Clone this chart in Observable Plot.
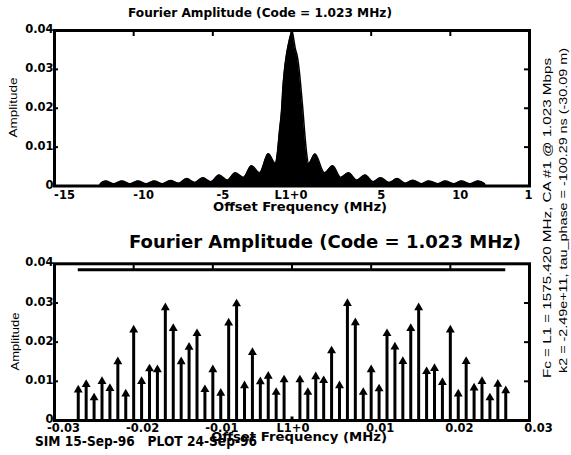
<!DOCTYPE html>
<html><head><meta charset="utf-8">
<script src="https://cdn.jsdelivr.net/npm/d3@7"></script>
<script src="https://cdn.jsdelivr.net/npm/@observablehq/plot@0.6"></script>
<style>
body{margin:0;background:#fff;}
#wrap{position:relative;width:571px;height:455px;overflow:hidden;background:#fff;}
#wrap > svg{position:absolute;left:0;}
</style></head><body><div id="wrap"></div>
<script>
// ---- top panel: spectrum envelope (MHz, amplitude)
const envFreq = [-12.15,-12.1,-11.77,-11.25,-10.74,-10.23,-9.72,-9.21,-8.70,-8.18,
  -7.67,-7.16,-6.65,-6.14,-5.63,-5.12,-4.60,-4.09,-3.58,-3.07,
  -2.56,-2.05,-1.50,-1.05,-0.92,-0.80,-0.65,-0.58,-0.48,-0.36,
  -0.25,-0.08,0,
  0.10,0.20,0.35,0.45,0.57,0.68,0.80,0.92,1.05,
  1.45,2.05,2.57,3.07,3.57,4.09,4.62,5.12,5.59,6.14,
  6.65,7.16,7.63,8.18,8.62,9.21,9.68,10.23,10.70,11.25,
  11.75,12.15,12.2];
const envAmp = [0,0.0006,0.0013,0.0006,0.0013,0.0006,0.0013,0.0006,0.0013,0.0006,
  0.0014,0.0007,0.0019,0.0009,0.0021,0.0011,0.0028,0.0015,0.0034,0.0022,
  0.0052,0.0034,0.0083,0.0058,0.0086,0.0138,0.0200,0.0250,0.0297,0.0335,
  0.0360,0.0390,0.0400,
  0.0380,0.0355,0.0330,0.0300,0.0250,0.0200,0.0138,0.0086,0.0058,
  0.0082,0.0034,0.0052,0.0022,0.0034,0.0015,0.0028,0.0011,0.0021,0.0009,
  0.0019,0.0007,0.0015,0.0006,0.0013,0.0006,0.0013,0.0006,0.0013,0.0006,
  0.0013,0.0006,0];
const topXTicks = [-15,-10,-5,0,5,10,15];
const topXLabels = ["-15","-10","-5","L1+0","5","10","1"];

// ---- bottom panel: spectral lines (MHz, amplitude)
const lineFreq = [-0.027,-0.026,-0.025,-0.024,-0.023,-0.022,-0.021,-0.020,-0.019,-0.018,
  -0.017,-0.016,-0.015,-0.014,-0.013,-0.012,-0.011,-0.010,-0.009,-0.008,
  -0.007,-0.006,-0.005,-0.004,-0.003,-0.002,-0.001,0,
  0.001,0.002,0.003,0.004,0.005,0.006,0.007,0.008,0.009,0.010,
  0.011,0.012,0.013,0.014,0.015,0.016,0.017,0.018,0.019,0.020,
  0.021,0.022,0.023,0.024,0.025,0.026,0.027];
const lineAmp = [0.0078,0.0092,0.0058,0.0100,0.0082,0.0150,0.0068,0.0231,0.0100,0.0132,
  0.0130,0.0288,0.0235,0.0150,0.0187,0.0222,0.0079,0.0130,0.0070,0.0249,
  0.0298,0.0089,0.0174,0.0099,0.0113,0.0072,0.0104,0.0009,
  0.0104,0.0072,0.0112,0.0102,0.0178,0.0089,0.0299,0.0250,0.0072,0.0130,
  0.0081,0.0222,0.0188,0.0151,0.0235,0.0288,0.0125,0.0133,0.0097,0.0231,
  0.0068,0.0151,0.0083,0.0100,0.0058,0.0093,0.0076];
const envLevel = [0.0385];
const botXTicks = [-0.03,-0.02,-0.01,0,0.01,0.02,0.03];
const botXLabels = ["-0.03","-0.02","-0.01","L1+0","0.01","0.02","0.03"];

const yTicks = [0,0.01,0.02,0.03,0.04];
const yLabels = ["0","0.01","0.02","0.03","0.04"];

const titleText = "Fourier Amplitude (Code = 1.023 MHz)";
const xLabelText = "Offset Frequency (MHz)";
const yLabelText = "Amplitude";
const sideNotes = ["Fc = L1 = 1575.420 MHz, CA #1 @ 1.023 Mbps",
                   "k2 = -2.49e+11, tau_phase = -100.29 ns (-30.09 m)"];
const footerText = "SIM 15-Sep-96   PLOT 24-Sep-96";

// ---- build
const envelope = envFreq.map((f, i) => ({f, a: envAmp[i]}));
const lines = lineFreq.map((f, i) => ({f, a: lineAmp[i]}));
const fmtTopX = d => topXLabels[topXTicks.indexOf(d)];
const fmtBotX = d => botXLabels[botXTicks.indexOf(d)];
const fmtY = d => yLabels[yTicks.indexOf(d)];
const yInner = yTicks.slice(1, -1);

const W = 571, ML = 54, MR = 42, PW = W - ML - MR;
const axisStyle = {fontFamily: "DejaVu Sans", fontSize: "11.5px", fontWeight: "bold", color: "black", background: "transparent", overflow: "visible"};

function frameMarks(xTicks, ph) {
  return [
    Plot.frame({stroke: "black", strokeWidth: 3}),
    Plot.tickX(xTicks.slice(1, -1), {x: d => d, insetBottom: ph - 6, strokeWidth: 2}),
    Plot.tickY(yInner, {y: d => d, insetLeft: PW - 5, strokeWidth: 2}),
    Plot.tickY(yInner, {y: d => d, insetRight: PW - 4, strokeWidth: 2}),
    Plot.axisY({ticks: yTicks, tickFormat: fmtY, tickSize: 0, tickPadding: 1, dy: -1, label: null})
  ];
}

const H1 = 220, MT1 = 30, MB1 = 34.5;
const topPlot = Plot.plot({
  width: W, height: H1, marginTop: MT1, marginBottom: MB1, marginLeft: ML, marginRight: MR,
  x: {domain: [-15, 15], label: null}, y: {domain: [0, 0.04], label: null},
  style: axisStyle,
  marks: [
    Plot.areaY(envelope, {x: "f", y: "a", fill: "black", curve: "monotone-x"}),
    Plot.lineY(envelope, {x: "f", y: "a", stroke: "black", strokeWidth: 1.5, curve: "monotone-x"}),
    ...frameMarks(topXTicks, H1 - MT1 - MB1),
    Plot.axisX({ticks: topXTicks.filter(t => t !== 0 && t !== 15), tickFormat: fmtTopX, tickSize: 0, tickPadding: 4.8, dx: 10, label: null}),
    Plot.axisX({ticks: [0, 15], tickFormat: fmtTopX, tickSize: 0, tickPadding: 4.8, dx: -1, label: null})
  ]
});
topPlot.style.top = "0px";

const H2 = 235, MT2 = 43.3, MB2 = 35;
const botPlot = Plot.plot({
  width: W, height: H2, marginTop: MT2, marginBottom: MB2, marginLeft: ML, marginRight: MR,
  x: {domain: [-0.03, 0.03], label: null}, y: {domain: [0, 0.04], label: null},
  style: axisStyle,
  marks: [
    Plot.ruleY(envLevel, {y: d => d, x1: lineFreq[0], x2: lineFreq[lineFreq.length - 1], strokeWidth: 3}),
    Plot.ruleX(lines, {x: "f", y1: 0, y2: "a", strokeWidth: 3}),
    Plot.dot(lines.filter(d => d.a > 0.002), {x: "f", y: "a", symbol: "triangle", r: 3.3, fill: "black", stroke: "none"}),
    ...frameMarks(botXTicks, H2 - MT2 - MB2),
    Plot.axisX({ticks: botXTicks.filter(t => t !== 0), tickFormat: fmtBotX, tickSize: 0, tickPadding: 3.8, dx: 9, label: null}),
    Plot.axisX({ticks: [0], tickFormat: fmtBotX, tickSize: 0, tickPadding: 3.8, dx: 1, label: null})
  ]
});
botPlot.style.top = H1 + "px";

const wrap = document.getElementById("wrap");
wrap.appendChild(topPlot);
wrap.appendChild(botPlot);

// ---- text annotations
const svg = d3.create("svg").attr("width", W).attr("height", 455).style("top", "0px");
function txt(s, o) {
  const t = svg.append("text")
    .attr("transform", `translate(${o.x},${o.y})` + (o.rot ? " rotate(-90)" : ""))
    .attr("text-anchor", o.anchor || "middle")
    .attr("font-family", o.family || "DejaVu Sans")
    .attr("font-weight", o.weight || "bold")
    .attr("font-size", o.size)
    .attr("fill", "black")
    .style("white-space", "pre")
    .attr("xml:space", "preserve")
    .text(s);
  if (o.len) t.attr("textLength", o.len).attr("lengthAdjust", "spacingAndGlyphs");
}
txt(titleText, {x: 260, y: 16.7, size: 11.4, len: 264});
txt(titleText, {x: 325, y: 248.3, size: 18, len: 392});
txt(xLabelText, {x: 300, y: 210.7, size: 12.3, len: 174});
txt(xLabelText, {x: 299, y: 441, size: 12.3, len: 176});
txt(yLabelText, {x: 17, y: 107.5, size: 10.5, family: "Liberation Sans", weight: "normal", rot: true, len: 60});
txt(yLabelText, {x: 18.5, y: 341.5, size: 10.5, family: "Liberation Sans", weight: "normal", rot: true, len: 58});
txt(sideNotes[0], {x: 550.5, y: 378, size: 11, family: "Liberation Sans", weight: "normal", rot: true, anchor: "start", len: 320});
txt(sideNotes[1], {x: 567, y: 373, size: 11, family: "Liberation Sans", weight: "normal", rot: true, anchor: "start", len: 325});
txt(footerText, {x: 35, y: 446, size: 13.5, anchor: "start", len: 222});
wrap.appendChild(svg.node());
</script></body></html>
